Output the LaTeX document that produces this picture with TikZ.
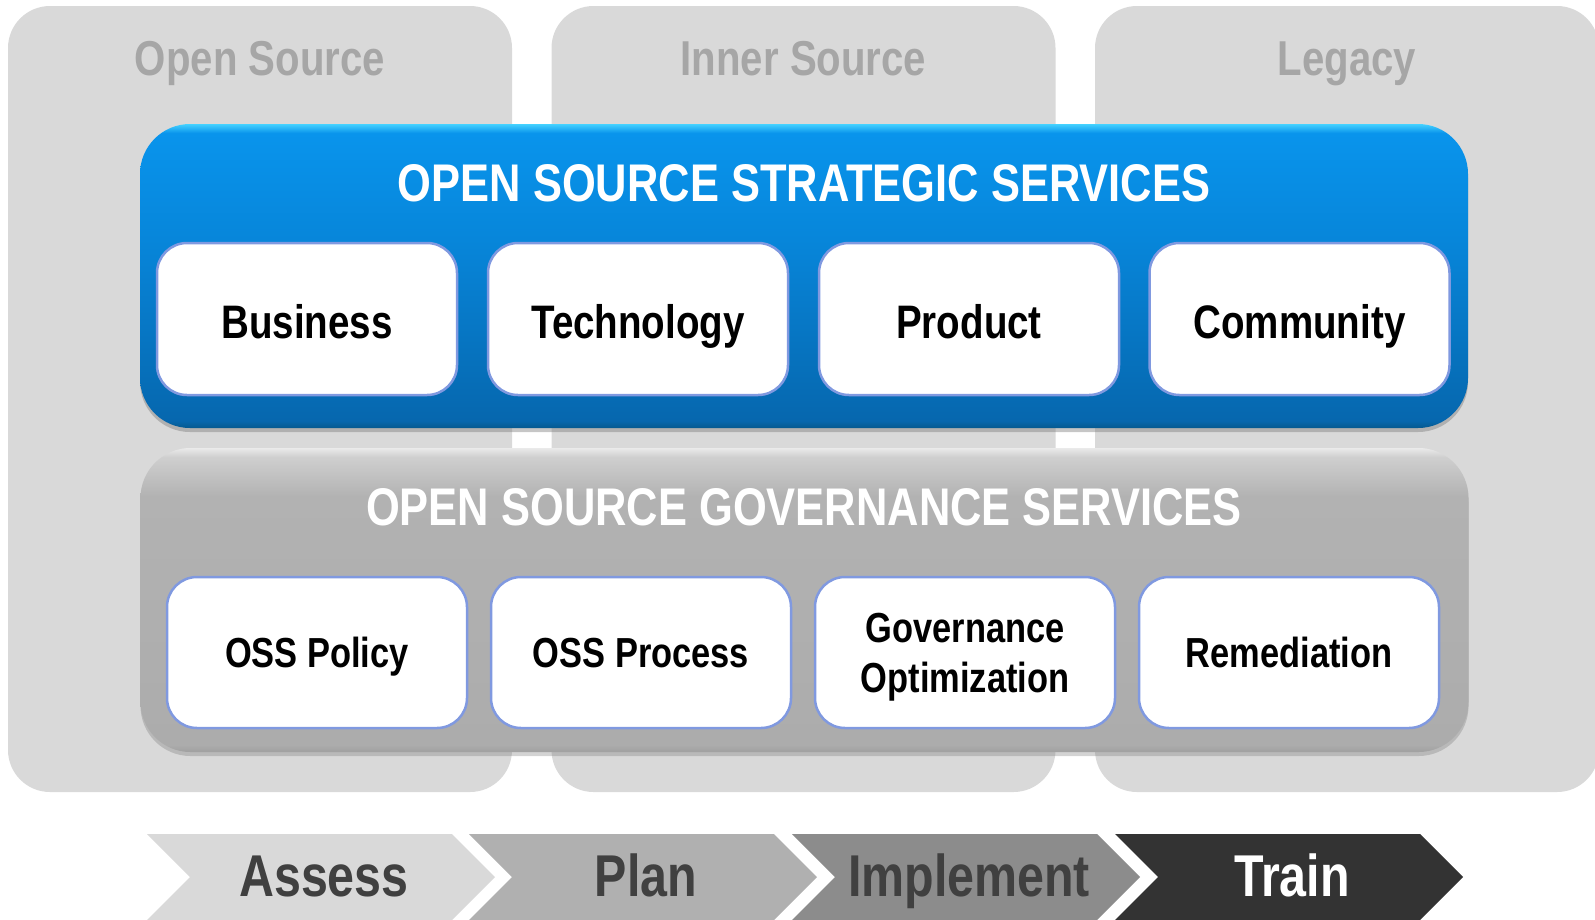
\documentclass[tikz,border=0pt]{standalone}
\usepackage{fontspec}
\setmainfont{Liberation Sans}[FakeStretch=0.82]
\usetikzlibrary{shadows}

\definecolor{colbg}{HTML}{D9D9D9}
\definecolor{coltext}{HTML}{A6A6A6}
\definecolor{tileline}{HTML}{8099E0}
\definecolor{chevtext}{HTML}{404040}
\definecolor{blueH}{HTML}{45D2FF}
\definecolor{blueT}{HTML}{0994EC}
\definecolor{blueM}{HTML}{0786DA}
\definecolor{blueB}{HTML}{0667AE}
\definecolor{blueR}{HTML}{05598F}
\definecolor{greyH}{HTML}{EAEAEA}
\definecolor{greyT}{HTML}{CFCFCF}
\definecolor{greyM}{HTML}{B2B2B2}
\definecolor{greyB}{HTML}{ACACAC}
\definecolor{greyR}{HTML}{A0A0A0}
\definecolor{assesscol}{HTML}{D9D9D9}
\definecolor{plancol}{HTML}{B0B0B0}
\definecolor{implcol}{HTML}{8C8C8C}
\definecolor{traincol}{HTML}{333333}

\pgfdeclareverticalshading{stratshade}{100bp}{color(0bp)=(blueR); color(25bp)=(blueR); color(26.2bp)=(blueB); color(56bp)=(blueM); color(73.5bp)=(blueT); color(75bp)=(blueH); color(100bp)=(blueH)}
\pgfdeclareverticalshading{govshade}{100bp}{color(0bp)=(greyR); color(25bp)=(greyR); color(26.2bp)=(greyB); color(67bp)=(greyM); color(73.5bp)=(greyT); color(75bp)=(greyH); color(100bp)=(greyH)}

\begin{document}
\begin{tikzpicture}[x=1pt,y=-1pt,
    column/.style={fill=colbg,rounded corners=42pt,minimum width=504pt,minimum height=786pt,inner sep=0pt},
    coltitle/.style={anchor=base,text=coltext,font=\fontsize{49}{55}\selectfont\bfseries},
    band/.style={rounded corners=50pt,minimum width=1328pt,minimum height=304pt,inner sep=0pt},
    bandtitle/.style={anchor=base,text=white,font=\fontsize{53}{60}\selectfont\bfseries},
    tile/.style={draw=tileline,line width=2.5pt,fill=white,rounded corners=30pt,minimum width=300pt,inner sep=0pt},
    strattile/.style={tile,minimum height=152pt,text height=38pt,text depth=0pt,font=\fontsize{47}{54}\selectfont\bfseries},
    govtile/.style={tile,minimum height=151pt,text depth=-4pt,align=center,font=\fontsize{42}{50}\selectfont\bfseries},
    chevlabel/.style={anchor=base,font=\fontsize{59}{66}\selectfont\bfseries}]
    \useasboundingbox (0,0) rectangle (1595,919);
    % columns
    \node [column] (opensrc) at (260,399) {};
    \node [column] (innersrc) at (803.5,399) {};
    \node [column] (legacy) at (1347,399) {};
    \node [coltitle] (opensrctitle) at (260,75) {Open Source};
    \node [coltitle] (innersrctitle) at (803.5,75) {Inner Source};
    \node [coltitle] (legacytitle) at (1347,75) {Legacy};
    % strategic services
    \node [band,shading=stratshade,drop shadow={shadow xshift=0pt,shadow yshift=-4pt,opacity=0.45}] (strategic) at (804,276) {};
    \node [bandtitle] (strategictitle) at (804,201) {OPEN SOURCE STRATEGIC SERVICES};
    \node [strattile] (business) at (307,319) {Business};
    \node [strattile] (technology) at (638,319) {Technology};
    \node [strattile] (product) at (969,319) {Product};
    \node [strattile] (community) at (1299.5,319) {Community};
    % governance services
    \node [band,shading=govshade,drop shadow={shadow xshift=0pt,shadow yshift=-4pt,opacity=0.35}] (governance) at (804.5,600) {};
    \node [bandtitle] (governancetitle) at (804,525) {OPEN SOURCE GOVERNANCE SERVICES};
    \node [govtile] (policy) at (317,652.5) {OSS Policy};
    \node [govtile] (process) at (641,652.5) {OSS Process};
    \node [govtile] (optimization) at (965,652.5) {Governance\\Optimization};
    \node [govtile] (remediation) at (1289,652.5) {Remediation};
    % phases
    \fill [assesscol] (147,834) -- (452,834) -- (495,877) -- (452,920) -- (147,920) -- (190,877) -- cycle;
    \fill [plancol] (469,834) -- (774,834) -- (817,877) -- (774,920) -- (469,920) -- (512,877) -- cycle;
    \fill [implcol] (792,834) -- (1097,834) -- (1140,877) -- (1097,920) -- (792,920) -- (835,877) -- cycle;
    \fill [traincol] (1115,834) -- (1420,834) -- (1463,877) -- (1420,920) -- (1115,920) -- (1158,877) -- cycle;
    \node [chevlabel,text=chevtext] (assess) at (324,896) {Assess};
    \node [chevlabel,text=chevtext] (plan) at (646,896) {Plan};
    \node [chevlabel,text=chevtext] (implement) at (969,896) {Implement};
    \node [chevlabel,text=white] (train) at (1292,896) {Train};
\end{tikzpicture}
\end{document}
